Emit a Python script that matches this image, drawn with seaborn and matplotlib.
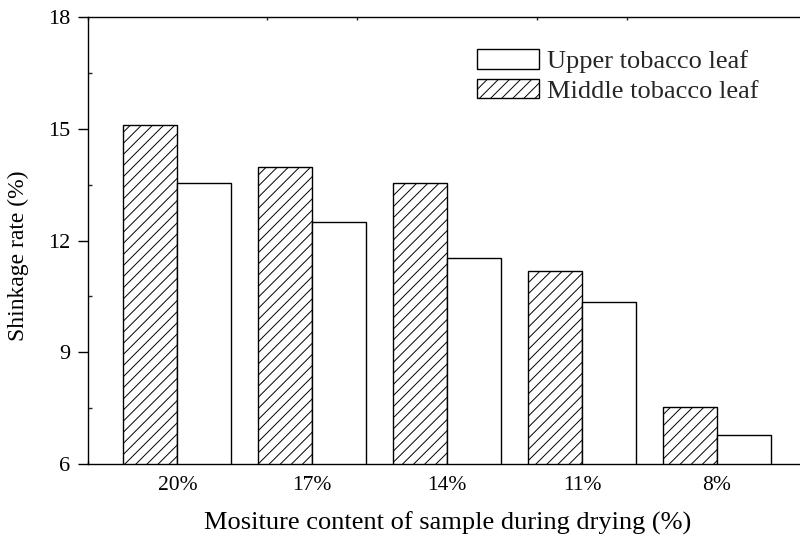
import matplotlib
matplotlib.use("Agg")
import matplotlib.pyplot as plt
import seaborn as sns
import pandas as pd
import numpy as np
from matplotlib.ticker import FixedLocator

categories = ["20%", "17%", "14%", "11%", "8%"]
middle_leaf = [15.1, 13.97, 13.55, 11.17, 7.52]
upper_leaf = [13.55, 12.49, 11.53, 10.36, 6.78]
series_names = ["Middle tobacco leaf", "Upper tobacco leaf"]

sns.set_theme(style="ticks")
plt.rcParams["font.family"] = ["Liberation Serif", "DejaVu Serif"]
plt.rcParams["hatch.linewidth"] = 0.7
plt.rcParams["hatch.color"] = "black"

df = pd.DataFrame({
    "Moisture": categories * 2,
    "Rate": middle_leaf + upper_leaf,
    "Series": [series_names[0]] * len(categories) + [series_names[1]] * len(categories),
})

fig = plt.figure(figsize=(8, 5.38), dpi=100)
ax = fig.add_axes([87.5 / 800, 1 - 463.7 / 538, (807 - 87.5) / 800, (463.7 - 17.3) / 538])

sns.barplot(data=df, x="Moisture", y="Rate", hue="Series", hue_order=series_names,
            order=categories, palette=["white", "white"], edgecolor="black",
            linewidth=1.0, width=0.8, saturation=1, legend=False, ax=ax)

for bar in ax.containers[0]:
    bar.set_hatch("///")

ax.set_ylim(6, 18)
ax.set_xlim(-2 / 3, 4 + 2 / 3)
ax.set_yticks([6, 9, 12, 15, 18])
ax.yaxis.set_minor_locator(FixedLocator([7.5, 10.5, 13.5, 16.5]))
ax.xaxis.set_minor_locator(FixedLocator(np.arange(-1, 15) * 2 / 3))

for side in ["top", "right", "left", "bottom"]:
    ax.spines[side].set_visible(True)
    ax.spines[side].set_linewidth(1.0)
    ax.spines[side].set_color("black")

ax.tick_params(axis="y", which="major", direction="out", length=7.5, width=1.0,
               labelsize=16, pad=5, colors="black")
ax.tick_params(axis="y", which="minor", direction="in", length=3, width=1.0)
ax.tick_params(axis="x", which="major", length=0, labelsize=15.5, pad=9, colors="black")
ax.tick_params(axis="x", which="minor", direction="in", length=2.5, width=1.0,
               top=True, bottom=True)

ax.set_xlabel("Mositure content of sample during drying (%)", fontsize=19, labelpad=12,
              color="black")
ax.set_ylabel("Shinkage rate (%)", fontsize=17, color="black")
ax.yaxis.set_label_coords(-0.081, 0.466)

containers = ax.containers
handles = [containers[1].patches[0], containers[0].patches[0]]
labels = ["Upper tobacco leaf", "Middle tobacco leaf"]
ax.legend(handles, labels, loc="upper left", bbox_to_anchor=(477 / 800, 1 - 49 / 538),
          bbox_transform=fig.transFigure, frameon=False, fontsize=19,
          handlelength=2.35, handleheight=0.76, handletextpad=0.3,
          labelspacing=0.22, borderpad=0, borderaxespad=0)

fig.savefig("out.png", dpi=100)
